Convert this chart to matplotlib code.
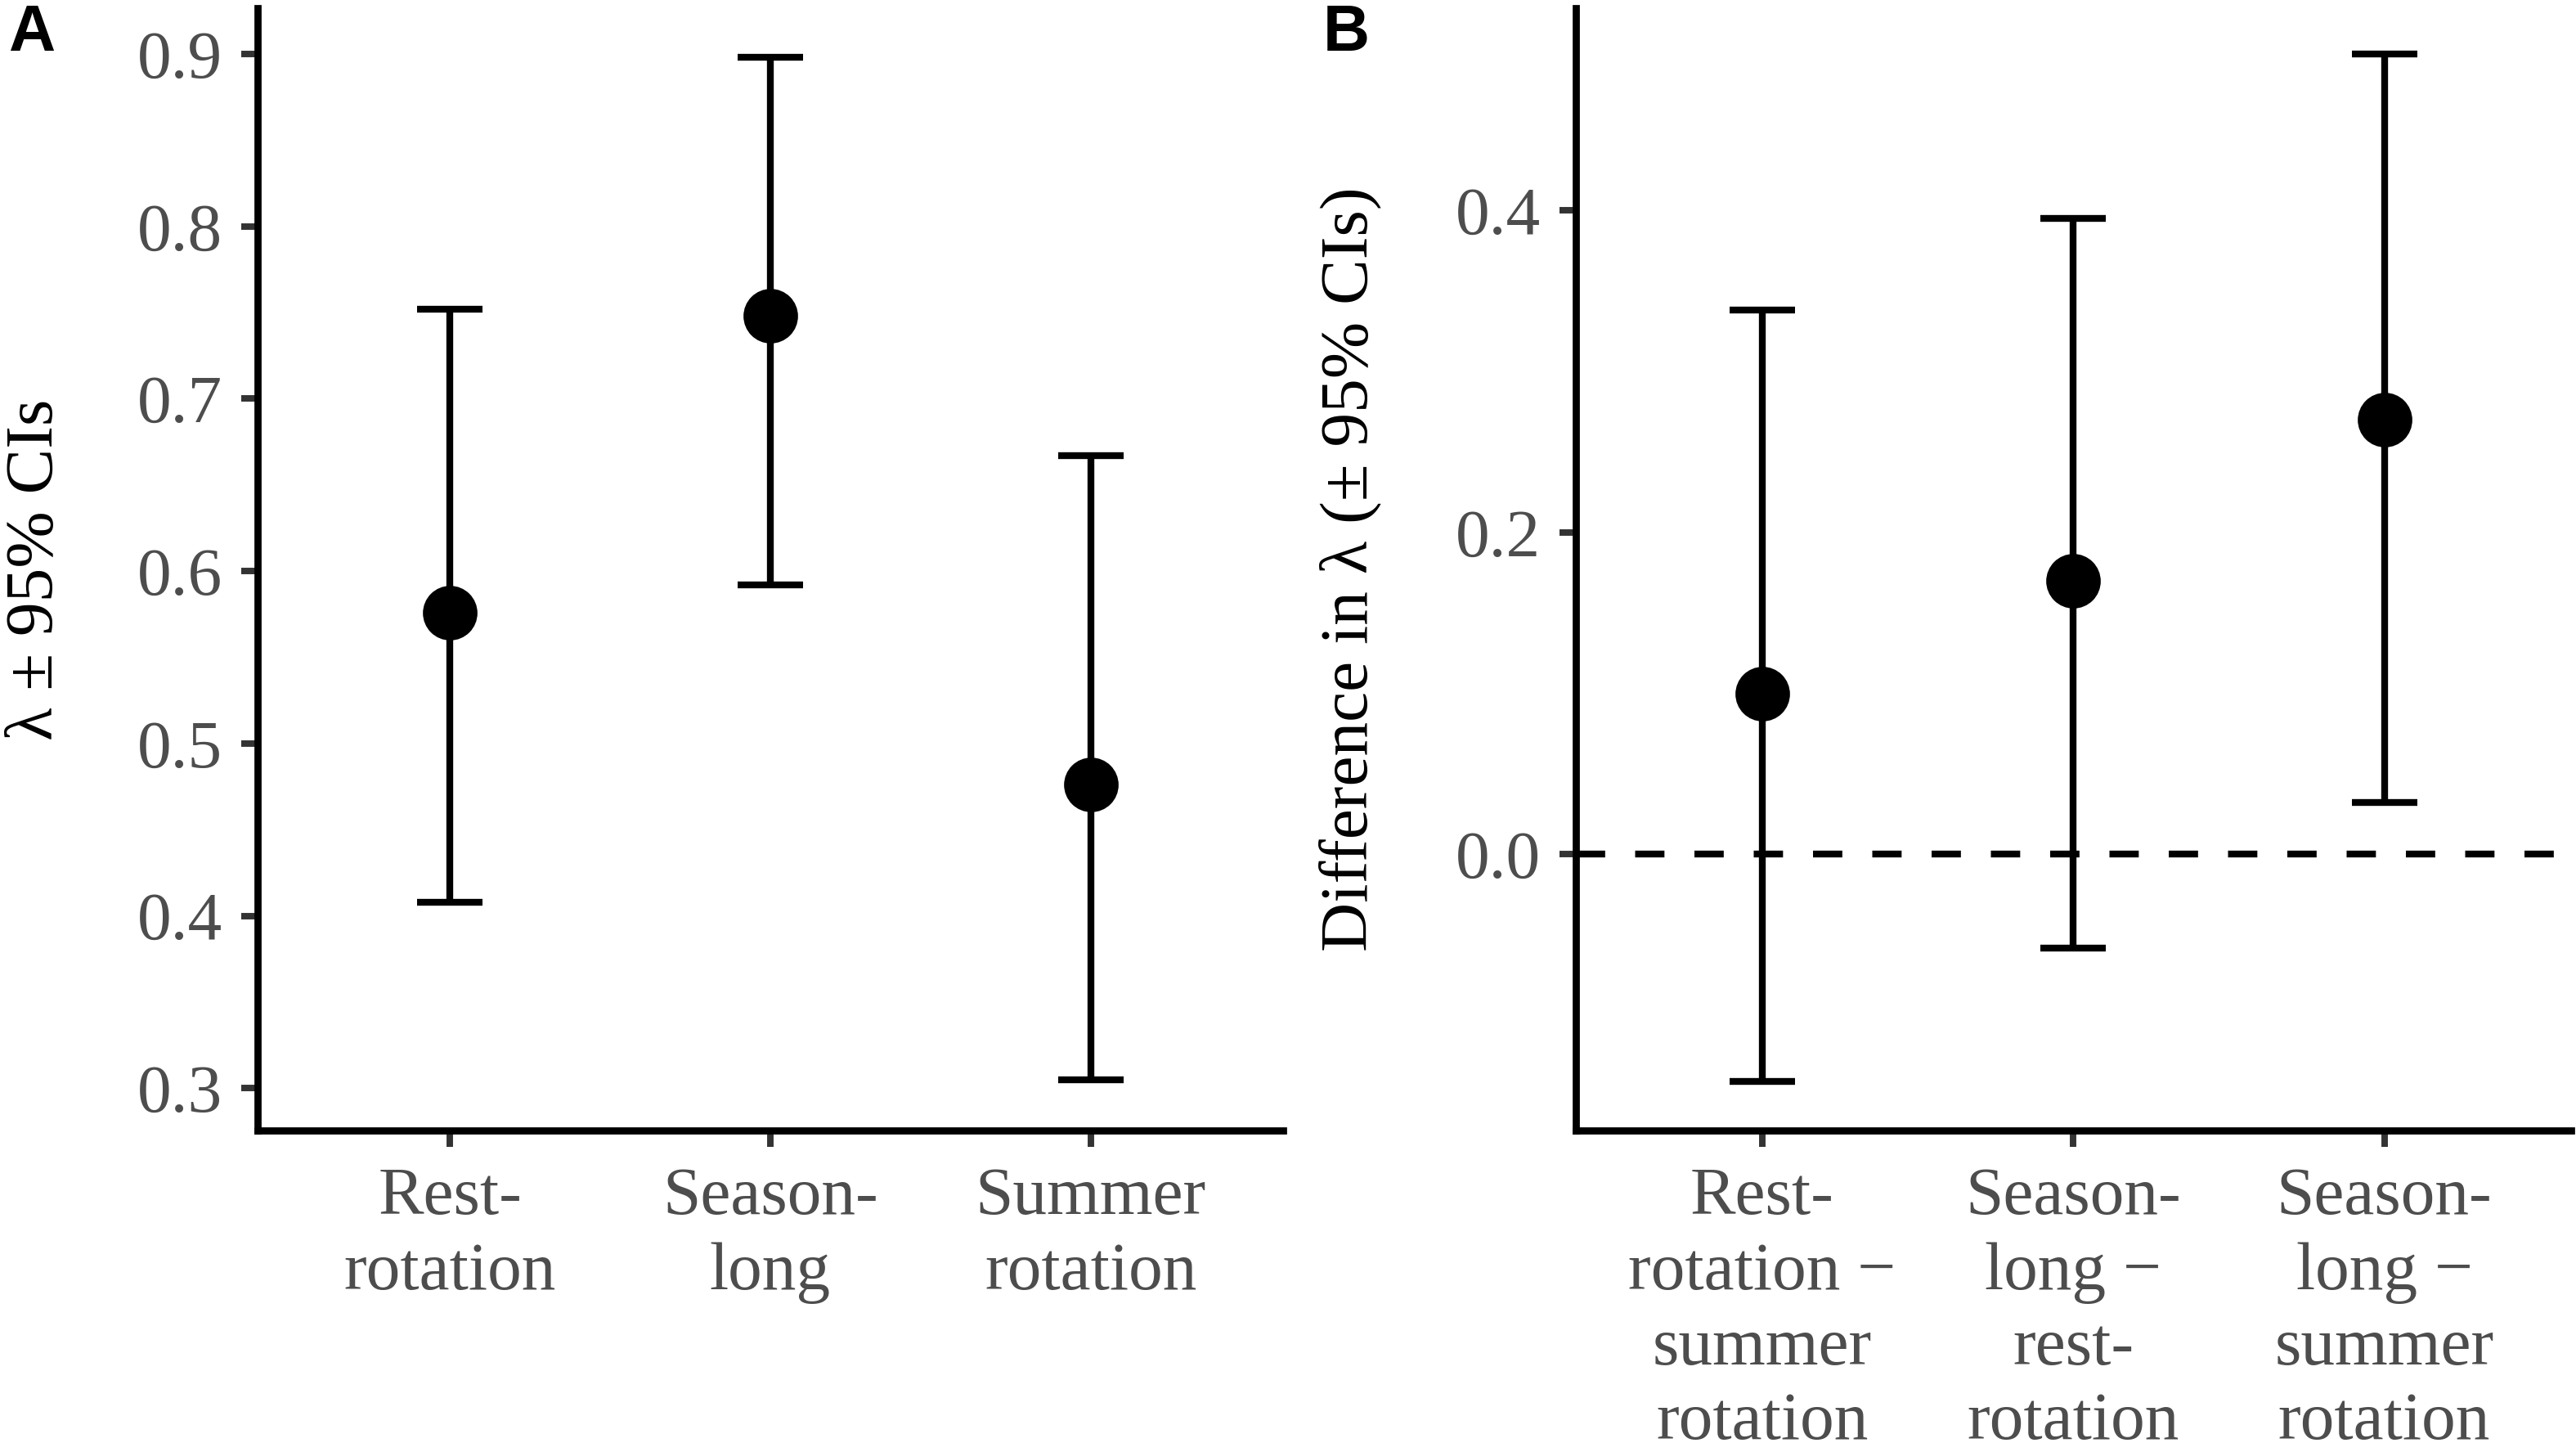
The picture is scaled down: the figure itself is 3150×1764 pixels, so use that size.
import matplotlib
matplotlib.use("Agg")
import matplotlib.pyplot as plt
import numpy as np

# panel A: lambda estimates with 95% CIs
cats_a = ["Rest-\nrotation", "Season-\nlong", "Summer\nrotation"]
lam = [0.576, 0.748, 0.476]
lam_lo = [0.408, 0.592, 0.305]
lam_hi = [0.752, 0.898, 0.667]

# panel B: pairwise differences in lambda
cats_b = ["Rest-\nrotation \u2212\nsummer\nrotation",
          "Season-\nlong \u2212\nrest-\nrotation",
          "Season-\nlong \u2212\nsummer\nrotation"]
diff = [0.100, 0.170, 0.270]
diff_lo = [-0.141, -0.058, 0.032]
diff_hi = [0.338, 0.395, 0.497]

plt.rcParams['font.family'] = ['Liberation Serif', 'DejaVu Serif']
grey = "#4D4D4D"

fig = plt.figure(figsize=(10.5, 5.88), dpi=300)
axA = fig.add_axes([0.100, 0.2166, 0.398, 0.7777])
axB = fig.add_axes([0.6117, 0.2166, 0.3863, 0.7777])


def panel(ax, cats, est, lo, hi, ylim, yticks, fmt):
    x = np.arange(1, len(cats) + 1)
    est = np.array(est)
    yerr = [est - np.array(lo), np.array(hi) - est]
    ax.errorbar(x, est, yerr=yerr, fmt="none", ecolor="black",
                elinewidth=2.0, capsize=9.6, capthick=2.0, zorder=2)
    ax.plot(x, est, "o", color="black", markersize=15, zorder=3)
    ax.set_xlim(0.4, 3.6)
    ax.set_ylim(*ylim)
    ax.set_xticks(x)
    ax.set_xticklabels(cats, linespacing=1.28)
    ax.set_yticks(yticks)
    ax.set_yticklabels([fmt % t for t in yticks])
    for s in ["top", "right"]:
        ax.spines[s].set_visible(False)
    for s in ["left", "bottom"]:
        ax.spines[s].set_linewidth(2.1)
        ax.spines[s].set_color("black")
    ax.tick_params(axis="both", length=4.8, width=1.9, color="#333333",
                   labelsize=20, labelcolor=grey)
    ax.tick_params(axis="y", pad=5.5)
    ax.tick_params(axis="x", pad=6)


panel(axA, cats_a, lam, lam_lo, lam_hi, (0.2755, 0.9265),
      [0.3, 0.4, 0.5, 0.6, 0.7, 0.8, 0.9], "%.1f")
panel(axB, cats_b, diff, diff_lo, diff_hi, (-0.1715, 0.5255),
      [0.0, 0.2, 0.4], "%.1f")

axB.axhline(0, color="black", lw=2.0, dashes=(4.3, 4.4), zorder=1)

axA.text(-0.216, 0.5, "\u03bb \u00b1 95% CIs", transform=axA.transAxes,
         rotation=90, ha="center", va="center", fontsize=20, color="black")
axB.text(-0.227, 0.5, "Difference in \u03bb (\u00b1 95% CIs)", transform=axB.transAxes,
         rotation=90, ha="center", va="center", fontsize=20, color="black")

fig.text(10 / 3150, 1 - 4 / 1764, "A", family=["Liberation Sans", "DejaVu Sans"],
         fontweight="bold", fontsize=19, ha="left", va="top")
fig.text(1618 / 3150, 1 - 4 / 1764, "B", family=["Liberation Sans", "DejaVu Sans"],
         fontweight="bold", fontsize=19, ha="left", va="top")

fig.savefig("out.png", dpi=300, facecolor="white")
